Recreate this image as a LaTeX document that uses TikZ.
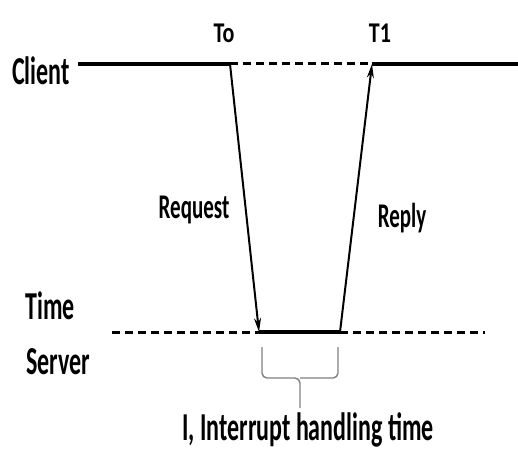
\documentclass[tikz,border=0pt]{standalone}
\usepackage{fontspec}
\setmainfont{Carlito}
\usetikzlibrary{arrows.meta}
\newcommand{\stretchtxt}[2]{\scalebox{1}[#1]{#2}}

\begin{document}
\begin{tikzpicture}[x = 1pt, y = -1pt,
        lbl/.style = {inner sep = 0pt, font = \bfseries\fontsize{24}{26}\selectfont},
        msg/.style = {inner sep = 0pt, font = \bfseries\fontsize{21}{23}\selectfont},
        tmark/.style = {inner sep = 0pt, font = \bfseries\fontsize{22}{24}\selectfont},
        tline/.style = {line width = 4pt},
        idle/.style = {line width = 3pt, dash pattern = on 8pt off 5pt},
        sig/.style = {line width = 2pt, -{Stealth[length = 14pt, width = 7pt]}},
        brc/.style = {line width = 1.4pt, color = gray, rounded corners = 5pt}]
        \useasboundingbox (0,0) rectangle (518,457);
        % labels
        \node[lbl] (client) at (41,71) {\stretchtxt{1.65}{Client}};
        \node[lbl] (time) at (50,306) {\stretchtxt{1.65}{Time}};
        \node[lbl] (server) at (58,362) {\stretchtxt{1.65}{Server}};
        \node[tmark] (t0) at (224,33) {\stretchtxt{1.3}{To}};
        \node[tmark] (t1) at (380,33) {\stretchtxt{1.3}{T1}};
        \node[msg] (request) at (194,210) {\stretchtxt{1.65}{Request}};
        \node[msg] (reply) at (402,218) {\stretchtxt{1.65}{Reply}};
        \node[lbl] (interrupt) at (308,430) {\stretchtxt{1.65}{I, Interrupt handling time}};
        % time lines
        \coordinate (cstart) at (78,64);
        \coordinate (c0) at (230,64);
        \coordinate (c1) at (372,64);
        \coordinate (cend) at (518,64);
        \coordinate (sstart) at (112,332);
        \coordinate (s0) at (259,332);
        \coordinate (s1) at (340,332);
        \coordinate (send) at (485,332);
        \draw[tline] (cstart) -- (c0);
        \draw[idle] (c0) -- (c1);
        \draw[tline] (c1) -- (cend);
        \draw[idle] (sstart) -- (s0);
        \draw[tline] (s0) -- (s1);
        \draw[idle] (s1) -- (send);
        % messages
        \draw[sig] (c0) -- (s0);
        \draw[sig] (s1) -- (c1);
        % brace
        \coordinate (b0) at (262,347);
        \coordinate (b1) at (338,347);
        \coordinate (tip) at (300,408);
        \draw[brc] (b0) |- (300,378) -- (tip);
        \draw[brc] (b1) |- (300,378);
\end{tikzpicture}
\end{document}
